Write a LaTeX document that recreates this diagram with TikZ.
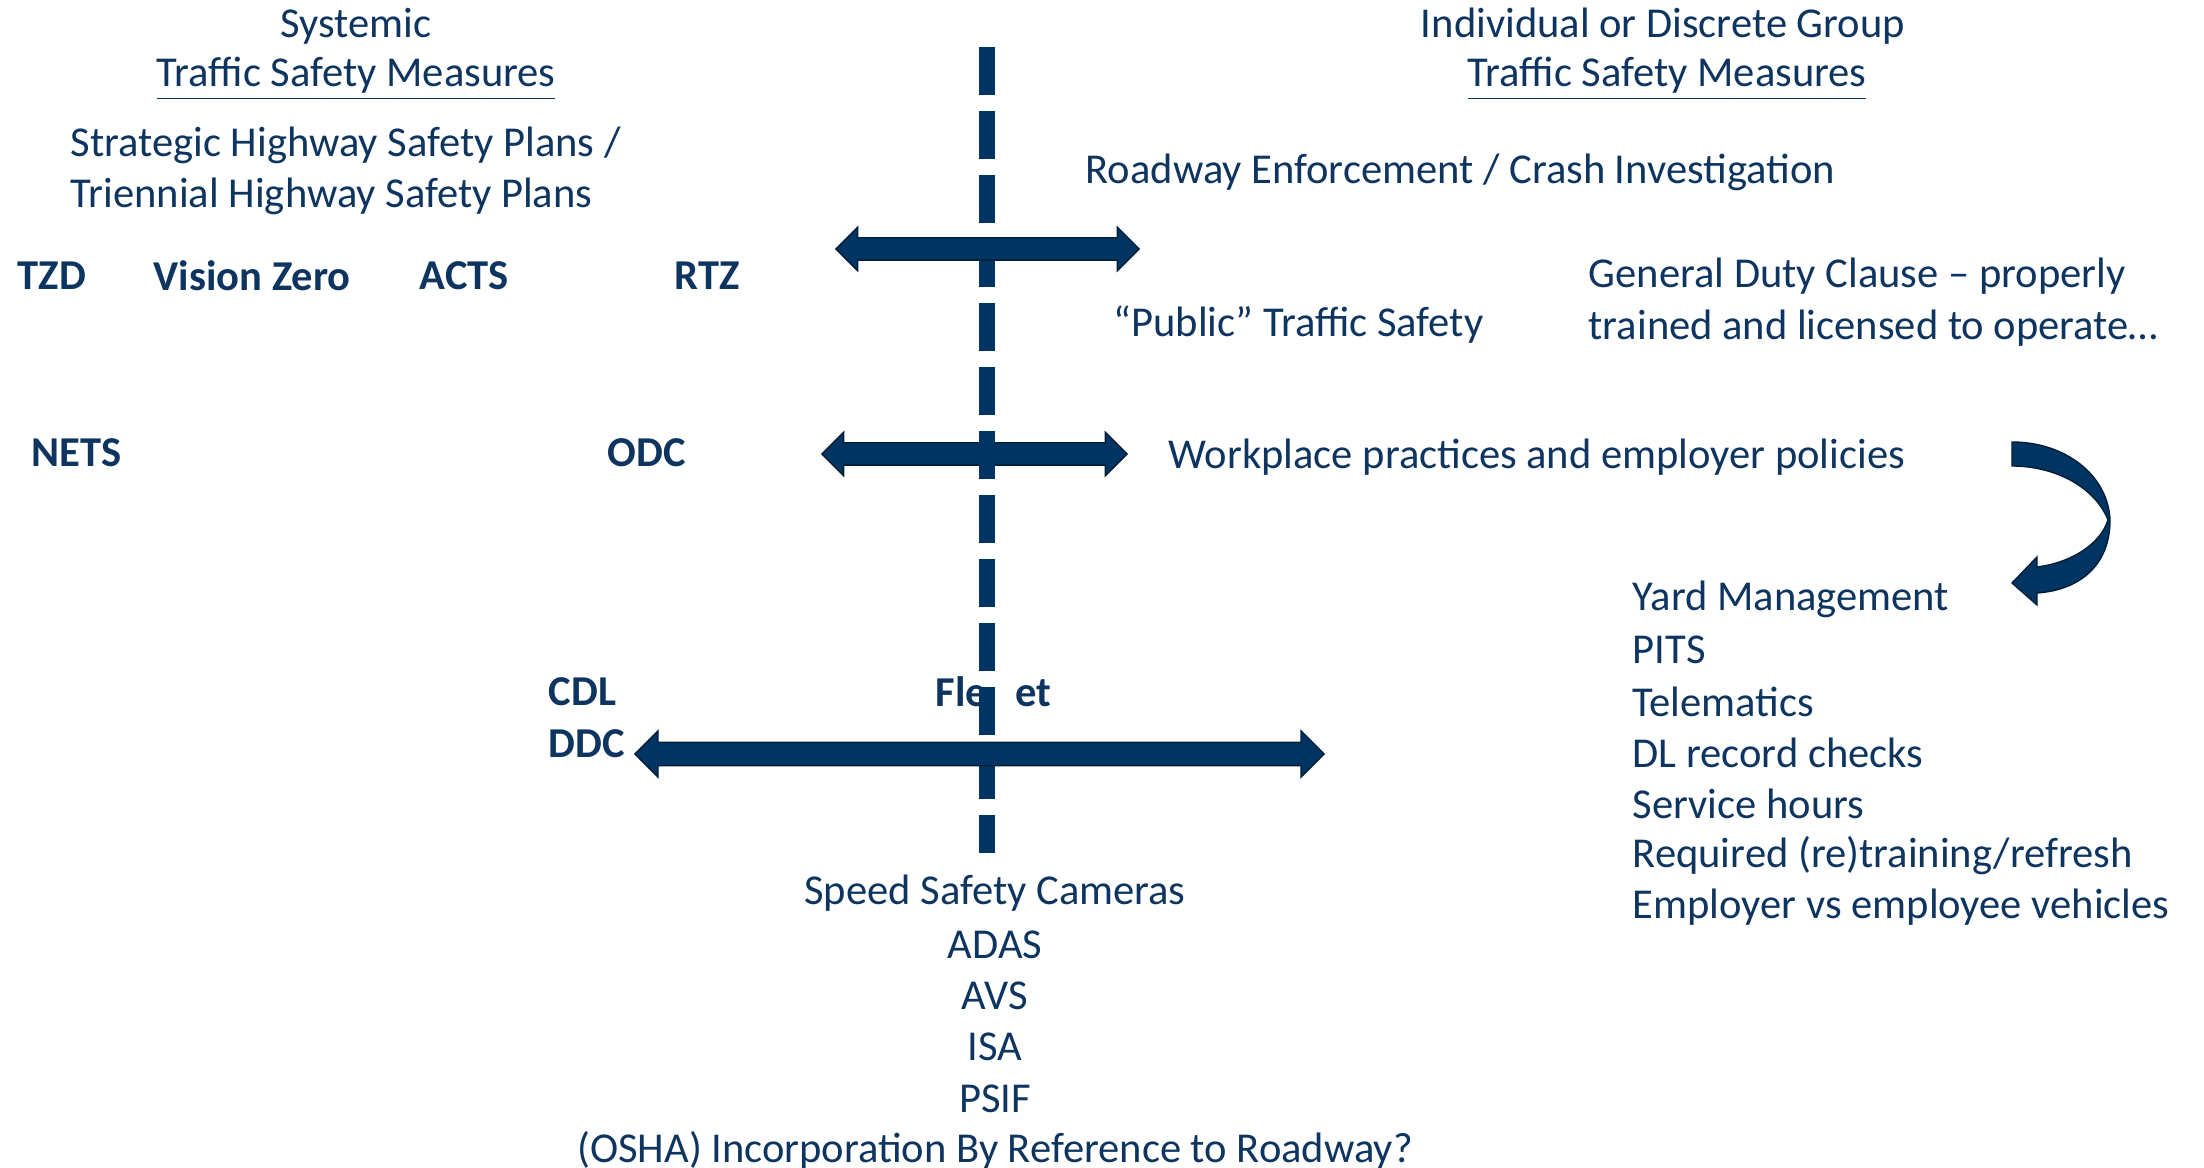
\documentclass[tikz,border=0pt]{standalone}
\usepackage{fontspec}
\setmainfont{Carlito}
\usetikzlibrary{shapes.arrows,positioning}
\definecolor{navyCol}{RGB}{0,52,98}
\definecolor{txtCol}{RGB}{14,52,96}
\tikzset{
  txt/.style={font=\fontsize{12.1}{14.7}\selectfont,text=txtCol,inner sep=0pt,yshift=-0.03cm},
  tag/.style={font=\fontsize{12.1}{14.7}\selectfont\bfseries,text=txtCol,inner sep=0pt},
  lft/.style={anchor=west,align=left},
  dblarr/.style={double arrow,draw=navyCol!55!black,line width=0.4pt,fill=navyCol,
                 inner xsep=0pt,inner ysep=0.105cm,double arrow head extend=0.105cm},
  divider/.style={draw=navyCol,line width=0.16cm,dash pattern=on 0.48cm off 0.16cm},
}

\begin{document}
\begin{tikzpicture}[x=0.01cm,y=-0.01cm]
    \useasboundingbox (0,0) rectangle (2204,1168);
    % --- headers ---
    \node[txt] (sysA) at (356,23) {Systemic};
    \node[txt] (sysB) at (356,76) {\underline{Traffic Safety Measures}};
    \node[txt] (indA) at (1663,23) {Individual or Discrete Group};
    \node[txt] (indB) at (1667,76) {\underline{Traffic Safety Measures}};
    % --- systemic side ---
    \node[txt,lft] (shsp) at (70,168) {Strategic Highway Safety Plans /\\Triennial Highway Safety Plans};
    \node[tag,lft] (tzd) at (17,276) {TZD};
    \node[tag,lft] (vz) at (153,276) {Vision Zero};
    \node[tag,lft] (acts) at (419,276) {ACTS};
    \node[tag,lft] (rtz) at (674,276) {RTZ};
    \node[tag,lft] (nets) at (31,453) {NETS};
    \node[tag,lft] (odc) at (607,453) {ODC};
    \node[tag,lft] (cdl) at (548,692) {CDL};
    \node[tag,lft] (ddc) at (548,744) {DDC};
    \node[tag,lft] (fleet) at (935,692) {Fle\hspace{0.28cm}et};
    % --- individual side ---
    \node[txt,lft] (enf) at (1085,169) {Roadway Enforcement / Crash Investigation};
    \node[txt,lft] (pub) at (1113,322) {``Public'' Traffic Safety};
    \node[txt,lft] (gdc) at (1588,299) {General Duty Clause -- properly\\trained and licensed to operate\dots};
    \node[txt,lft] (work) at (1168,454) {Workplace practices and employer policies};
    \foreach \t [count=\i] in {Yard Management,PITS,Telematics,DL record checks,Service hours,Required (re)training/refresh,Employer vs employee vehicles}
      \node[txt,lft] (yard\i) at (1632,{596+51.3*(\i-1)}) {\t};
    % --- bottom list ---
    \foreach \t [count=\i] in {Speed Safety Cameras,ADAS,AVS,ISA,PSIF,(OSHA) Incorporation By Reference to Roadway?}
      \node[txt] (tech\i) at (995,{890+51.4*(\i-1)}) {\t};
    % --- arrows and divider ---
    \node[dblarr,minimum height=0.305cm*10] (arrB) at (974.5,454) {};
    \coordinate (divTop) at (987,47);
    \coordinate (divBot) at (987,853);
    \draw[divider] (divTop) -- (divBot);
    \node[dblarr,minimum height=0.303cm*10] (arrA) at (987.5,249) {};
    \node[dblarr,inner ysep=0.11cm,double arrow head extend=0.115cm,minimum height=6.89cm] (arrC) at (979.5,754) {};
    % --- curled arrow ---
    \draw[fill=navyCol,draw=navyCol!55!black,line width=0.4pt] (2012,442)
        .. controls (2065,442) and (2108,475) .. (2110,520)
        .. controls (2110,565) and (2080,590) .. (2037,593)
        -- (2037,605) -- (2012,583) -- (2037,557) -- (2037,567)
        .. controls (2070,563) and (2100,545) .. (2108,520)
        .. controls (2095,487) and (2055,466) .. (2012,466) -- cycle;
  \end{tikzpicture}
\end{document}
